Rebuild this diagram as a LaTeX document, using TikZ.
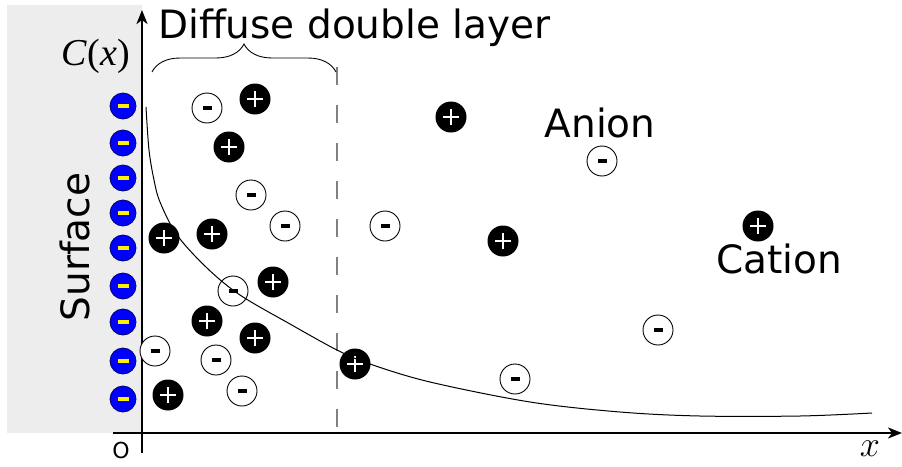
\documentclass[tikz,border=0pt]{standalone}
\usepackage{fontspec}
\setmainfont{DejaVu Sans}
\newfontfamily\timesf{Liberation Serif}
\usetikzlibrary{arrows.meta,decorations.pathreplacing}
\begin{document}
\begin{tikzpicture}[x=1pt,y=-1pt,
  ion/.style={circle, minimum size=30pt, inner sep=0pt},
  anion/.style={ion, draw=black, line width=0.9pt, fill=white,
    path picture={\fill[black] ([xshift=-4.5pt,yshift=-2pt]path picture bounding box.center) rectangle ([xshift=4.5pt,yshift=2pt]path picture bounding box.center);}},
  cation/.style={ion, minimum size=31pt, fill=black,
    path picture={\draw[white,line width=2.6pt] ([xshift=-8pt]path picture bounding box.center) -- ([xshift=8pt]path picture bounding box.center) ([yshift=-8pt]path picture bounding box.center) -- ([yshift=8pt]path picture bounding box.center);}},
  surf/.style={circle, minimum size=26pt, inner sep=0pt, fill=blue, draw=blue!45!black, line width=0.8pt,
    path picture={\fill[yellow] ([xshift=-5.5pt,yshift=-2.3pt]path picture bounding box.center) rectangle ([xshift=5.5pt,yshift=2.3pt]path picture bounding box.center);}},
  big/.style={font=\fontsize{39}{44}\selectfont, inner sep=0pt},
  axis/.style={line width=2.4pt, -{Stealth[length=14pt,width=11pt,inset=4pt]}},
]
\useasboundingbox (0,0) rectangle (902,466);
% surface background
\fill[black!7] (7,5) rectangle (142,433);
% axes
\coordinate (ybot) at (142,453);
\coordinate (ytop) at (142,10);
\coordinate (xl) at (113,433);
\coordinate (xr) at (902,433);
\draw[axis] (ybot) -- (ytop);
\draw[axis] (xl) -- (xr);
% dashed boundary
\coordinate (dtop) at (337,67);
\coordinate (dbot) at (337,438);
\draw[gray, line width=1.6pt, dash pattern=on 18pt off 20pt] (dtop) -- (dbot);
% brace
\coordinate (bl) at (152,72);
\coordinate (br) at (336,72);
\draw[line width=0.9pt, decorate, decoration={brace, amplitude=28pt}] (bl) -- (br);
% labels
\node[big, anchor=base west] (ddl) at (158,38) {Diffuse double layer};
\node[big, anchor=base] (anl) at (600,137) {Anion};
\node[big, anchor=base] (cal) at (779,273) {Cation};
\node[big, anchor=base, rotate=90] (surfl) at (89,247) {Surface};
\node[font=\timesf\fontsize{38}{42}\selectfont, inner sep=0pt, anchor=base east] (cx) at (130,65) {\textit{C}(\textit{x})};
\node[font=\fontsize{22}{26}\selectfont, inner sep=0pt] (o) at (121,450) {O};
\node[font=\Huge, scale=1.45, inner sep=0pt] (xlab) at (870,449) {$x$};
% surface charges
\foreach \y [count=\i] in {106,143,178,213,248,286,322,361,399}
  \node[surf] (s\i) at (123,\y) {};
% anions
\foreach \p [count=\i] in {(207,108),(251,195),(285,226),(233,291),(155,351),(216,360),(242,391),(385,226),(602,161),(658,330),(515,379)}
  \node[anion] (a\i) at \p {};
% cations
\foreach \p [count=\i] in {(255,99),(229,147),(164,238),(212,234),(273,282),(207,321),(255,338),(168,395),(355,364),(451,117),(503,241),(758,226)}
  \node[cation] (c\i) at \p {};
% concentration curve
\draw[line width=1pt] plot[smooth, tension=0.55] coordinates {(146,107) (149,150) (154,180) (160,202) (177,235) (207,268) (240,295) (290,324) (337,350) (370,364) (430,382) (530,402) (620,412) (700,416) (800,416) (872,413)};
\end{tikzpicture}
\end{document}
